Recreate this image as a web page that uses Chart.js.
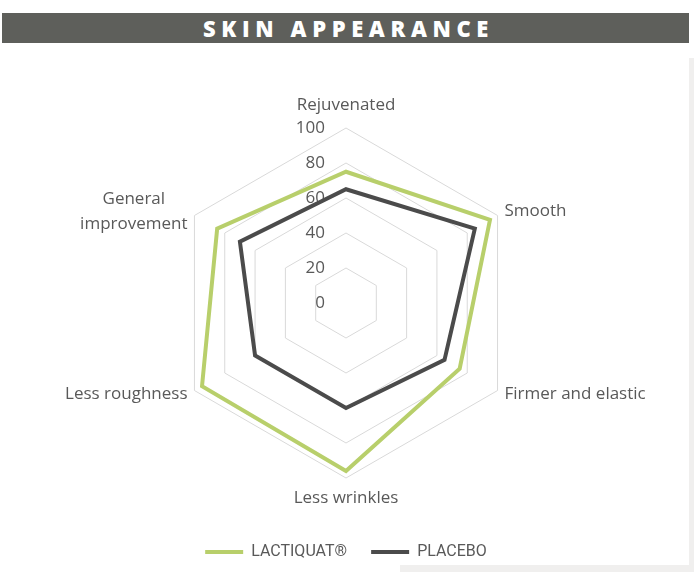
<!DOCTYPE html>
<html>
<head>
<meta charset="utf-8">
<script src="https://cdn.jsdelivr.net/npm/chart.js@4.4.1/dist/chart.umd.min.js"></script>
<style>
  html, body { margin: 0; padding: 0; background: #fff; }
  #wrap { position: relative; width: 694px; height: 572px; overflow: hidden; }
  #title {
    position: absolute; left: 2px; top: 13px; width: 687px; height: 30px;
    background: #5e5f5b; color: #fff;
    font: 800 22px "Open Sans", sans-serif; letter-spacing: 5.6px;
    display: flex; align-items: center; justify-content: center;
    padding-left: 6px; box-sizing: border-box;
  }
  .strip { position: absolute; background: #f0efee; }
  canvas { position: absolute; left: 0; top: 0; }
</style>
</head>
<body>
<div id="wrap">
  <div class="strip" style="left:689px;top:58px;width:5px;height:514px"></div>
  <div class="strip" style="left:400px;top:565px;width:294px;height:7px"></div>
  <canvas id="chart" width="694" height="572"></canvas>
  <div id="title">SKIN APPEARANCE</div>
</div>
<script>
const categories = ['Rejuvenated', 'Smooth', 'Firmer and elastic', 'Less wrinkles', 'Less roughness', ['General', 'improvement']];
const lactiquat = [75, 95, 75, 96, 95, 85];
const placebo = [65, 85, 65, 60, 60, 70];
const tickValues = [0, 20, 40, 60, 80, 100];

const textColor = '#595959';

// tick numbers sit left of the top axis, point labels sit just outside the outer ring
const axisText = {
    id: 'axisText',
    beforeDatasetsDraw(chart) {
        const scale = chart.scales.r;
        const ctx = chart.ctx;
        ctx.save();
        ctx.fillStyle = textColor;
        ctx.font = '17px "Open Sans"';
        ctx.textBaseline = 'middle';

        ctx.textAlign = 'right';
        scale.ticks.forEach(t => {
            const y = scale.yCenter - scale.getDistanceFromCenterForValue(t.value);
            ctx.fillText(String(t.value), scale.xCenter - 21, y);
        });

        chart.data.labels.forEach((label, i) => {
            const lines = Array.isArray(label) ? label : [label];
            const pos = scale.getPointPosition(i, scale.drawingArea);
            const vertical = Math.abs(pos.x - scale.xCenter) < 1;
            const off = vertical ? (pos.y < scale.yCenter ? 23 : 20) : 8;
            const p = scale.getPointPosition(i, scale.drawingArea + off);
            const lh = 25;
            const maxW = Math.max(...lines.map(l => ctx.measureText(l).width));
            ctx.textAlign = 'center';
            lines.forEach((line, k) => {
                const y = p.y + (k - (lines.length - 1) / 2) * lh;
                let x = p.x;
                if (!vertical) x = p.x > scale.xCenter ? p.x + maxW / 2 : p.x - maxW / 2;
                ctx.fillText(line, x, y);
            });
        });
        ctx.restore();
    }
};

new Chart(document.getElementById('chart'), {
    type: 'radar',
    data: {
        labels: categories,
        datasets: [
            {
                label: 'LACTIQUAT®',
                data: lactiquat,
                borderColor: '#b8cf6b',
                backgroundColor: '#b8cf6b',
                borderWidth: 4,
                pointRadius: 0,
                fill: false
            },
            {
                label: 'PLACEBO',
                data: placebo,
                borderColor: '#4b4b4b',
                backgroundColor: '#4b4b4b',
                borderWidth: 4,
                pointRadius: 0,
                fill: false
            }
        ]
    },
    options: {
        responsive: false,
        animation: false,
        layout: { padding: { left: 171, right: 173, top: 86, bottom: 2 } },
        elements: { line: { tension: 0, borderJoinStyle: 'miter' } },
        scales: {
            r: {
                min: 0,
                max: 100,
                afterBuildTicks: scale => { scale.ticks = tickValues.map(v => ({ value: v })); },
                ticks: { display: false },
                pointLabels: { display: false },
                angleLines: { display: false },
                grid: { color: '#d9d9d9', lineWidth: 1 }
            }
        },
        plugins: {
            tooltip: { enabled: false },
            legend: {
                position: 'bottom',
                labels: {
                    usePointStyle: true,
                    pointStyle: 'line',
                    pointStyleWidth: 38,
                    padding: 24,
                    color: textColor,
                    font: { family: 'Roboto', size: 16 }
                }
            }
        }
    },
    plugins: [axisText]
});
</script>
</body>
</html>
